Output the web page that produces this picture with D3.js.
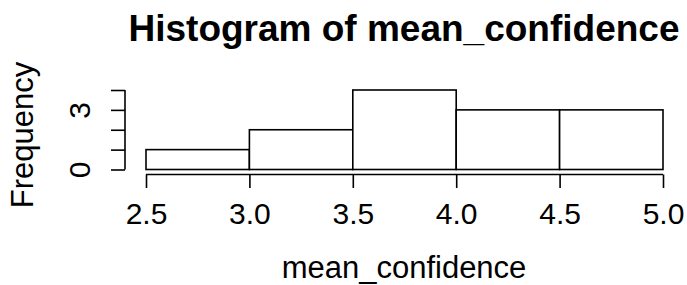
<!DOCTYPE html>
<meta charset="utf-8">
<style>
body { margin: 0; background: #fff; }
svg text { font-family: "Liberation Sans", Arial, Helvetica, sans-serif; fill: #000; }
.bar { fill: #fff; stroke: #000; stroke-width: 1.6px; }
.axis path, .axis line { fill: none; stroke: #000; stroke-width: 1.6px; }
</style>
<body>
<svg width="687" height="285"></svg>
<script src="https://d3js.org/d3.v7.min.js"></script>
<script>
// histogram bins and counts
var binStarts = [2.5, 3.0, 3.5, 4.0, 4.5];
var binEnds = [3.0, 3.5, 4.0, 4.5, 5.0];
var counts = [1, 2, 4, 3, 3];

var xTicks = [2.5, 3.0, 3.5, 4.0, 4.5, 5.0];
var yTicks = [0, 1, 2, 3, 4];
var yTickLabels = ["0", "", "", "3", ""];

var svg = d3.select("svg");

var x = d3.scaleLinear().domain([2.5, 5.0]).range([146, 663]);
var y = d3.scaleLinear().domain([0, 4]).range([169.5, 90]);

var data = binStarts.map(function(d, i) {
  return { x0: d, x1: binEnds[i], n: counts[i] };
});

svg.selectAll(".bar")
  .data(data)
  .enter().append("rect")
    .attr("class", "bar")
    .attr("x", function(d) { return x(d.x0); })
    .attr("width", function(d) { return x(d.x1) - x(d.x0); })
    .attr("y", function(d) { return y(d.n); })
    .attr("height", function(d) { return y(0) - y(d.n); });

// x axis, sits a bit below the bars like R does
var xAxis = svg.append("g")
    .attr("class", "axis")
    .attr("transform", "translate(0,174.5)")
    .call(d3.axisBottom(x).tickValues(xTicks).tickSize(13.5).tickSizeOuter(0)
      .tickFormat(d3.format(".1f")));
xAxis.select(".domain").attr("d", "M" + x(2.5) + ",0H" + x(5.0));
xAxis.selectAll("text")
    .attr("y", 49)
    .attr("dy", null)
    .style("font-size", "30px");

// y axis
var yAxis = svg.append("g")
    .attr("class", "axis")
    .attr("transform", "translate(125,0)")
    .call(d3.axisLeft(y).tickValues(yTicks).tickSize(14).tickSizeOuter(0)
      .tickFormat(function(d, i) { return yTickLabels[i]; }));
yAxis.select(".domain").attr("d", "M0," + y(0) + "V" + y(4));
yAxis.selectAll(".tick text")
    .attr("x", 0)
    .attr("y", 0)
    .attr("dy", null)
    .attr("transform", "translate(-35,0) rotate(-90)")
    .attr("text-anchor", "middle")
    .style("font-size", "30px");

svg.append("text")
    .attr("x", 404)
    .attr("y", 41)
    .attr("text-anchor", "middle")
    .style("font-size", "37px")
    .style("font-weight", "bold")
    .text("Histogram of mean_confidence");

svg.append("text")
    .attr("x", 404)
    .attr("y", 278)
    .attr("text-anchor", "middle")
    .style("font-size", "31px")
    .text("mean_confidence");

svg.append("text")
    .attr("transform", "translate(33,135) rotate(-90)")
    .attr("text-anchor", "middle")
    .style("font-size", "31px")
    .text("Frequency");
</script>
</body>
